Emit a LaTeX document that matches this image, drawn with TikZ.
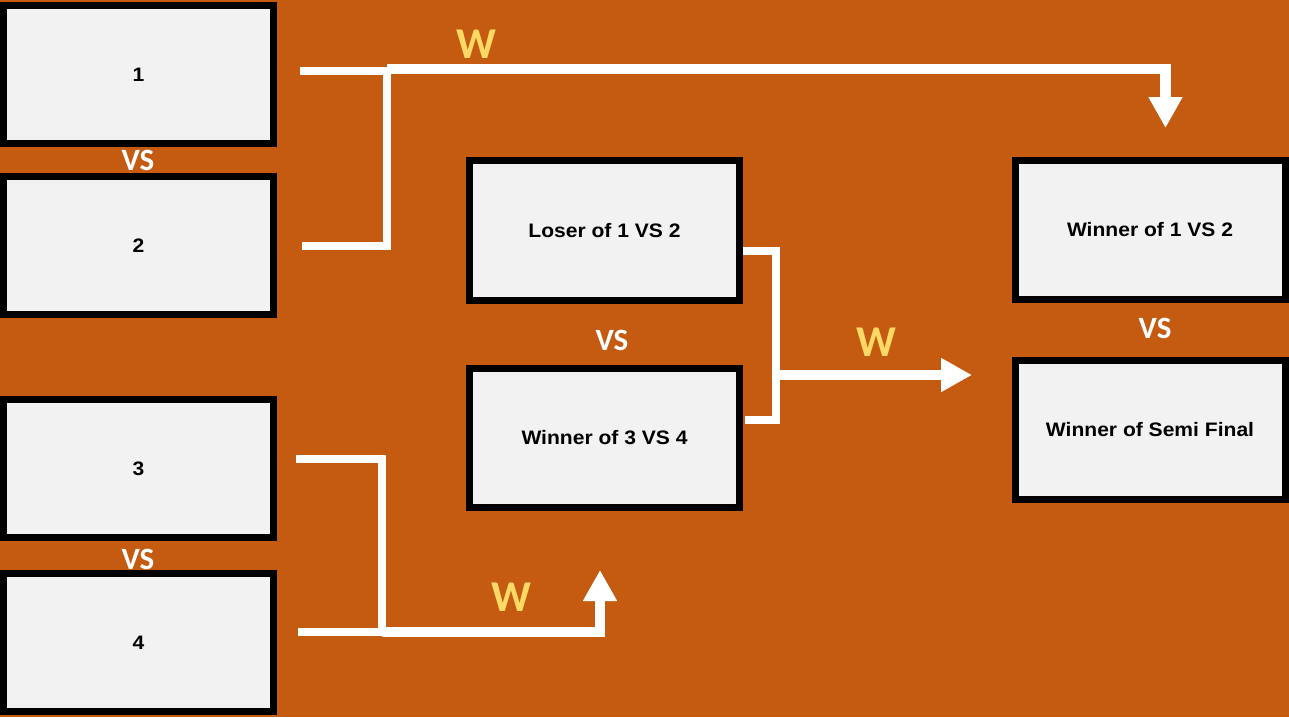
\documentclass[tikz,border=0pt]{standalone}
\usepackage{fontspec}
\setmainfont{Liberation Sans}
\newfontfamily\boxfont{Liberation Sans}[FakeStretch=1.08]
\newfontfamily\vsfont{Carlito}
\usepackage{tikz}
\usetikzlibrary{arrows.meta}
\usetikzlibrary{positioning}
\definecolor{bgorange}{HTML}{C55A11}
\definecolor{boxgray}{HTML}{F2F2F2}
\definecolor{wyellow}{HTML}{FFD966}
\tikzstyle{team}=[rectangle,draw=black,fill=boxgray,line width=7pt,inner sep=0pt,minimum width=270pt,minimum height=138pt,font=\boxfont\fontsize{19.5}{22}\selectfont\bfseries]
\tikzstyle{vs}=[text=white,inner sep=0pt,font=\vsfont\fontsize{31}{34}\selectfont\bfseries]
\tikzstyle{win}=[text=wyellow,inner sep=0pt,font=\vsfont\fontsize{44}{48}\selectfont\bfseries]
\tikzstyle{bracket}=[draw=white,line width=7.5pt]
\tikzstyle{arrow}=[draw=white,line width=10.5pt,-{Triangle[length=31pt,width=32pt]}]

\begin{document}
\begin{tikzpicture}[x=1pt,y=-1pt]
    \fill[bgorange] (0,0) rectangle (1289,717);
    \useasboundingbox (0,0) rectangle (1289,717);
    % vs labels go under the boxes
    \node[vs] at (138,160) (vs12) {VS};
    \node[vs] at (138,559) (vs34) {VS};
    \node[vs] at (612,340) (vssemi) {VS};
    \node[vs] at (1155,328) (vsfinal) {VS};
    \node[team] at (138.5,74.5) (team1) {1};
    \node[team] at (138.5,245.5) (team2) {2};
    \node[team] at (138.5,468.5) (team3) {3};
    \node[team] at (138.5,642.5) (team4) {4};
    \node[team,minimum height=140pt] at (604.5,230.5) (loser12) {Loser of 1 VS 2};
    \node[team,minimum height=139pt] at (604.5,438) (win34) {Winner of 3 VS 4};
    \node[team,minimum height=139pt] at (1150,230) (win12) {Winner of 1 VS 2};
    \node[team,minimum height=139pt] at (1150,430) (winsemi) {Winner of Semi Final};
    \node[win] at (476,44) (w12) {W};
    \node[win] at (876,342) (wsemi) {W};
    \node[win] at (511,597) (w34) {W};
    % bracket ends
    \coordinate (b1) at (300,71);
    \coordinate (b2) at (302,246);
    \coordinate (j12) at (387,71);
    \coordinate (d12) at (1165.5,69);
    \coordinate (e12) at (1165.5,128);
    \coordinate (b3) at (296,459);
    \coordinate (b4) at (298,632);
    \coordinate (j34) at (382,632);
    \coordinate (d34) at (600,632);
    \coordinate (e34) at (600,570);
    \coordinate (bl) at (743,251);
    \coordinate (bw) at (745,420);
    \coordinate (jsemi) at (776,375);
    \coordinate (esemi) at (972,375);
    \draw[bracket] (b1) -- (j12) -- (j12 |- b2) -- (b2);
    \draw[arrow] (j12 |- d12) -- (d12) -- (e12);
    \draw[bracket] (b3) -- (j34 |- b3) -- (j34) -- (b4);
    \draw[arrow] (j34) -- (d34) -- (e34);
    \draw[bracket] (bl) -- (jsemi |- bl) -- (jsemi |- bw) -- (bw);
    \draw[arrow] (jsemi) -- (esemi);
\end{tikzpicture}
\end{document}
